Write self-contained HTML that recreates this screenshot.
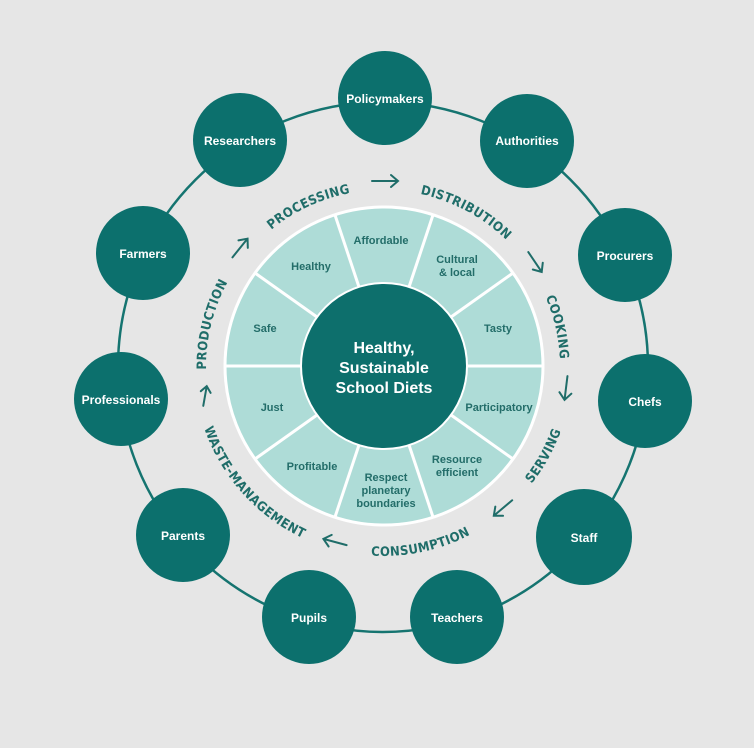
<!DOCTYPE html>
<html><head><meta charset="utf-8"><style>
html,body{margin:0;padding:0;background:#e6e6e6;}
svg{display:block;}
.n{font-family:"Liberation Sans",sans-serif;font-weight:bold;font-size:12px;fill:#fff;text-anchor:middle;}
.w{font-family:"Liberation Sans",sans-serif;font-weight:bold;font-size:11px;fill:#236d69;text-anchor:middle;}
.p{font-family:"DejaVu Sans Condensed","Liberation Sans Narrow",sans-serif;font-stretch:condensed;font-weight:bold;font-size:13px;fill:#1f6d69;letter-spacing:0.4px;}
</style></head><body>
<svg width="754" height="748" viewBox="0 0 754 748" xmlns="http://www.w3.org/2000/svg">
<rect width="754" height="748" fill="#e6e6e6"/>
<circle cx="383" cy="367" r="265" fill="none" stroke="#157470" stroke-width="2.5"/>
<circle cx="384" cy="366" r="159" fill="#aedcd7" stroke="#fff" stroke-width="3"/>
<g stroke="#fff" stroke-width="3">
<line x1="433" y1="215" x2="409" y2="287"/>
<line x1="513" y1="273" x2="451" y2="317"/>
<line x1="543" y1="366" x2="467" y2="366"/>
<line x1="513" y1="459" x2="451" y2="415"/>
<line x1="433" y1="517" x2="409" y2="445"/>
<line x1="335" y1="517" x2="359" y2="445"/>
<line x1="255" y1="459" x2="317" y2="415"/>
<line x1="225" y1="366" x2="301" y2="366"/>
<line x1="255" y1="273" x2="317" y2="317"/>
<line x1="335" y1="215" x2="359" y2="287"/>
</g>
<circle cx="384" cy="366" r="83" fill="#0d6f6c" stroke="#fff" stroke-width="2"/>
<g font-family="Liberation Sans,sans-serif" font-weight="bold" font-size="16" fill="#fff" text-anchor="middle">
<text x="384" y="353">Healthy,</text>
<text x="384" y="373">Sustainable</text>
<text x="384" y="393">School Diets</text>
</g>
<text class="w" x="381" y="244">Affordable</text>
<text class="w" x="457" y="263">Cultural</text><text class="w" x="457" y="276">&amp; local</text>
<text class="w" x="498" y="332">Tasty</text>
<text class="w" x="499" y="411">Participatory</text>
<text class="w" x="457" y="463">Resource</text><text class="w" x="457" y="476">efficient</text>
<text class="w" x="386" y="481">Respect</text><text class="w" x="386" y="494">planetary</text><text class="w" x="386" y="507">boundaries</text>
<text class="w" x="312" y="470">Profitable</text>
<text class="w" x="272" y="411">Just</text>
<text class="w" x="265" y="332">Safe</text>
<text class="w" x="311" y="270">Healthy</text>
<defs>
<path id="cw" d="M383,544 A177,177 0 1 1 383,190 A177,177 0 1 1 383,544"/>
<path id="ccw" d="M383,178 A189,189 0 1 0 383,556 A189,189 0 1 0 383,178"/>
</defs>
<text class="p"><textPath href="#cw" startOffset="321" text-anchor="middle">PRODUCTION</textPath></text>
<text class="p"><textPath href="#cw" startOffset="479" text-anchor="middle">PROCESSING</textPath></text>
<text class="p"><textPath href="#cw" startOffset="643" text-anchor="middle">DISTRIBUTION</textPath></text>
<text class="p"><textPath href="#cw" startOffset="794" text-anchor="middle">COOKING</textPath></text>
<text class="p"><textPath href="#ccw" startOffset="795" text-anchor="middle">SERVING</textPath></text>
<text class="p"><textPath href="#ccw" startOffset="633" text-anchor="middle">CONSUMPTION</textPath></text>
<text class="p"><textPath href="#ccw" startOffset="435" text-anchor="middle">WASTE-MANAGEMENT</textPath></text>
<g stroke="#1f6d69" stroke-width="2" fill="none" stroke-linecap="round">
<g transform="translate(385,181) rotate(0)"><path d="M-13,0 H13 M6,-6 L13,0 L6,6"/></g>
<g transform="translate(535,262) rotate(56)"><path d="M-12,0 H12 M5,-6 L12,0 L5,6"/></g>
<g transform="translate(566,388) rotate(97)"><path d="M-12,0 H12 M5,-6 L12,0 L5,6"/></g>
<g transform="translate(503,508) rotate(140)"><path d="M-12,0 H12 M5,-6 L12,0 L5,6"/></g>
<g transform="translate(335,542) rotate(195)"><path d="M-12,0 H12 M5,-6 L12,0 L5,6"/></g>
<g transform="translate(205,396) rotate(280)"><path d="M-10,0 H10 M4,-5 L10,0 L4,5"/></g>
<g transform="translate(240,248) rotate(309)"><path d="M-12,0 H12 M5,-6 L12,0 L5,6"/></g>
</g>
<g fill="#0c706d">
<circle cx="385" cy="98" r="47"/>
<circle cx="527" cy="141" r="47"/>
<circle cx="625" cy="255" r="47"/>
<circle cx="645" cy="401" r="47"/>
<circle cx="584" cy="537" r="48"/>
<circle cx="457" cy="617" r="47"/>
<circle cx="309" cy="617" r="47"/>
<circle cx="183" cy="535" r="47"/>
<circle cx="121" cy="399" r="47"/>
<circle cx="143" cy="253" r="47"/>
<circle cx="240" cy="140" r="47"/>
</g>
<text class="n" x="385" y="103">Policymakers</text>
<text class="n" x="527" y="145">Authorities</text>
<text class="n" x="625" y="260">Procurers</text>
<text class="n" x="645" y="406">Chefs</text>
<text class="n" x="584" y="542">Staff</text>
<text class="n" x="457" y="622">Teachers</text>
<text class="n" x="309" y="622">Pupils</text>
<text class="n" x="183" y="540">Parents</text>
<text class="n" x="121" y="404">Professionals</text>
<text class="n" x="143" y="258">Farmers</text>
<text class="n" x="240" y="145">Researchers</text>
</svg>
</body></html>
